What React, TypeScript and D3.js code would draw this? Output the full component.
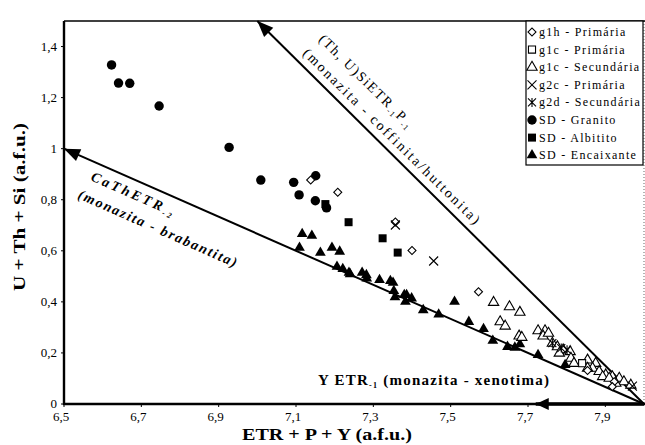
import React from "react";
import * as d3 from "d3";

const W = 645;
const H = 445;

const xTicks = [6.5, 6.7, 6.9, 7.1, 7.3, 7.5, 7.7, 7.9];
const yTicks = [0, 0.2, 0.4, 0.6, 0.8, 1, 1.2, 1.4];

// SD - Granito (filled circles)
const granito: [number, number][] = [
  [6.623, 1.328], [6.641, 1.257], [6.67, 1.256], [6.746, 1.167], [6.927, 1.005],
  [7.009, 0.877], [7.094, 0.868], [7.151, 0.894], [7.108, 0.819], [7.15, 0.796], [7.179, 0.768],
];
// SD - Albitito (filled squares)
const albitito: [number, number][] = [
  [7.176, 0.783], [7.236, 0.712], [7.324, 0.649], [7.363, 0.593],
];
// SD - Encaixante (filled triangles)
const encaixante: [number, number][] = [
  [7.116, 0.666], [7.141, 0.659], [7.109, 0.612], [7.163, 0.593], [7.193, 0.612], [7.213, 0.597],
  [7.206, 0.538], [7.221, 0.529], [7.237, 0.514], [7.24, 0.509], [7.271, 0.514], [7.282, 0.505],
  [7.283, 0.492], [7.316, 0.486], [7.344, 0.482], [7.351, 0.475], [7.353, 0.443], [7.356, 0.418],
  [7.38, 0.427], [7.386, 0.427], [7.383, 0.401], [7.399, 0.414], [7.429, 0.368], [7.469, 0.351],
  [7.51, 0.401], [7.547, 0.322], [7.585, 0.294], [7.609, 0.248], [7.647, 0.224], [7.666, 0.221],
  [7.679, 0.234], [7.726, 0.192], [7.796, 0.153],
];
// g1h - Primária (open diamonds)
const g1hPrim: [number, number][] = [
  [7.138, 0.877], [7.208, 0.829], [7.357, 0.713], [7.4, 0.601], [7.572, 0.44],
  [7.854, 0.131], [7.923, 0.087], [7.918, 0.068],
];
// g1c - Primária (open squares)
const g1cPrim: [number, number][] = [[7.84, 0.16]];
// g1c - Secundária (open triangles)
const g1cSec: [number, number][] = [
  [7.611, 0.398], [7.652, 0.381], [7.679, 0.359], [7.628, 0.322], [7.641, 0.305], [7.677, 0.266],
  [7.684, 0.261], [7.726, 0.287], [7.744, 0.287], [7.739, 0.266], [7.753, 0.277], [7.763, 0.238],
  [7.776, 0.224], [7.791, 0.212], [7.809, 0.205], [7.781, 0.199], [7.811, 0.179], [7.819, 0.159],
  [7.854, 0.172], [7.875, 0.159], [7.867, 0.14], [7.884, 0.127], [7.901, 0.114], [7.918, 0.107],
  [7.936, 0.101], [7.948, 0.087], [7.927, 0.081], [7.966, 0.074], [7.854, 0.14], [7.893, 0.107],
  [7.91, 0.101],
];
// g2c - Primária (x)
const g2cPrim: [number, number][] = [[7.357, 0.701], [7.456, 0.56], [7.97, 0.07]];
// g2d - Secundária (asterisk)
const g2dSec: [number, number][] = [[7.763, 0.238], [7.786, 0.219], [7.801, 0.212]];

const legendItems = [
  { key: "diamond", label: "g1h - Primária" },
  { key: "osquare", label: "g1c - Primária" },
  { key: "otri", label: "g1c - Secundária" },
  { key: "x", label: "g2c - Primária" },
  { key: "ast", label: "g2d - Secundária" },
  { key: "circle", label: "SD - Granito" },
  { key: "square", label: "SD - Albitito" },
  { key: "tri", label: "SD - Encaixante" },
];

const TS: React.CSSProperties = { fontFamily: '"Liberation Serif"' };

function Marker({ kind, cx, cy }: { kind: string; cx: number; cy: number }) {
  const t = `translate(${cx},${cy})`;
  if (kind === "circle") {
    return <path transform={t} d={d3.symbol().type(d3.symbolCircle).size(70)()!} fill="#000" />;
  }
  if (kind === "square") {
    return <path transform={t} d={d3.symbol().type(d3.symbolSquare).size(64)()!} fill="#000" />;
  }
  if (kind === "osquare") {
    return <path transform={t} d={d3.symbol().type(d3.symbolSquare).size(50)()!} fill="#fff" stroke="#000" strokeWidth={1.1} />;
  }
  if (kind === "tri") {
    return <path transform={t} d={d3.symbol().type(d3.symbolTriangle).size(50)()!} fill="#000" />;
  }
  if (kind === "otri") {
    return <path transform={t} d={d3.symbol().type(d3.symbolTriangle).size(46)()!} fill="#fff" stroke="#000" strokeWidth={1.1} />;
  }
  if (kind === "diamond") {
    return <path transform={`${t} rotate(45)`} d={d3.symbol().type(d3.symbolSquare).size(32)()!} fill="#fff" stroke="#000" strokeWidth={1.1} />;
  }
  if (kind === "x") {
    const s = 4.5;
    return <path transform={t} d={`M${-s},${-s}L${s},${s}M${-s},${s}L${s},${-s}`} stroke="#000" strokeWidth={1.1} fill="none" />;
  }
  const s = 4;
  return <path transform={t} d={`M${-s},${-s}L${s},${s}M${-s},${s}L${s},${-s}M0,${-s - 0.5}L0,${s + 0.5}`} stroke="#000" strokeWidth={1.1} fill="none" />;
}

function arrowHead(tip: [number, number], from: [number, number], len = 16, half = 6.5) {
  const dx = from[0] - tip[0];
  const dy = from[1] - tip[1];
  const L = Math.hypot(dx, dy);
  const ux = dx / L, uy = dy / L;
  const bx = tip[0] + ux * len, by = tip[1] + uy * len;
  const px = -uy, py = ux;
  return `M${tip[0]},${tip[1]}L${bx + px * half},${by + py * half}L${bx - px * half},${by - py * half}Z`;
}

export default function App() {
  const x = d3.scaleLinear().domain([6.5, 8.0]).range([64, 644]);
  const y = d3.scaleLinear().domain([0, 1.5]).range([404, 21]);

  const origin: [number, number] = [x(8.0), y(0)];
  const tipCa: [number, number] = [x(6.5), y(1.0)];
  const tipTh: [number, number] = [x(7.0), y(1.5)];
  const tipY: [number, number] = [x(7.72), y(0)];

  const angCa = (Math.atan2(origin[1] - tipCa[1], origin[0] - tipCa[0]) * 180) / Math.PI;
  const angTh = (Math.atan2(origin[1] - tipTh[1], origin[0] - tipTh[0]) * 180) / Math.PI;

  const fmt = (v: number) => (v === 0 || v === 1 ? String(v) : v.toFixed(1).replace(".", ","));

  const series: { kind: string; data: [number, number][] }[] = [
    { kind: "circle", data: granito },
    { kind: "square", data: albitito },
    { kind: "tri", data: encaixante },
    { kind: "otri", data: g1cSec },
    { kind: "diamond", data: g1hPrim },
    { kind: "osquare", data: g1cPrim },
    { kind: "x", data: g2cPrim },
    { kind: "ast", data: g2dSec },
  ];

  const legX = 526, legY = 21, legW = 117, legH = 144, rowH = 17.6;

  return (
    <svg width={W} height={H} style={{ position: "absolute", left: 0, top: 0, background: "#fff", fontFamily: '"Liberation Serif"' }}>
      <rect x={0} y={0} width={W} height={H} fill="#fff" />
      <line x1={x(6.5)} y1={y(1.5)} x2={W} y2={y(1.5)} stroke="#000" strokeWidth={1.6} />
      <line x1={x(8.0)} y1={y(1.5)} x2={x(8.0)} y2={y(0)} stroke="#000" strokeWidth={0.6} strokeDasharray="1,2" />
      <line x1={x(6.5)} y1={y(1.5)} x2={x(6.5)} y2={y(0) + 1} stroke="#000" strokeWidth={2.4} />
      <line x1={x(6.5) - 1} y1={y(0)} x2={W} y2={y(0)} stroke="#000" strokeWidth={2.4} />

      {yTicks.map((v) => (
        <g key={"y" + v}>
          <line x1={x(6.5) - 3} x2={x(6.5)} y1={y(v)} y2={y(v)} stroke="#000" strokeWidth={1} />
          <text style={TS} x={57} y={y(v) + 4} fontSize={13} textAnchor="end" fill="#000">{fmt(v)}</text>
        </g>
      ))}
      {xTicks.map((v) => (
        <g key={"x" + v}>
          <line x1={x(v)} x2={x(v)} y1={y(0)} y2={y(0) + 3} stroke="#000" strokeWidth={1} />
          <text style={TS} x={x(v) - 3} y={421} fontSize={13} textAnchor="middle" fill="#000">{fmt(v)}</text>
        </g>
      ))}

      <text style={TS} x={327} y={440} fontSize={17} fontWeight="bold" textAnchor="middle" textLength={170} lengthAdjust="spacingAndGlyphs" fill="#000">ETR + P + Y (a.f.u.)</text>
      <text style={TS} transform={`translate(25,207) rotate(-90)`} fontSize={17} fontWeight="bold" textAnchor="middle" textLength={168} lengthAdjust="spacingAndGlyphs" fill="#000">U + Th + Si (a.f.u.)</text>

      <line x1={origin[0]} y1={origin[1]} x2={tipCa[0]} y2={tipCa[1]} stroke="#000" strokeWidth={2} />
      <path d={arrowHead(tipCa, origin)} fill="#000" />
      <line x1={origin[0]} y1={origin[1]} x2={tipTh[0]} y2={tipTh[1]} stroke="#000" strokeWidth={2} />
      <path d={arrowHead(tipTh, origin)} fill="#000" />
      <line x1={origin[0]} y1={origin[1]} x2={tipY[0]} y2={tipY[1]} stroke="#000" strokeWidth={3.5} />
      <path d={arrowHead(tipY, origin, 13, 6)} fill="#000" />

      <g transform={`translate(90,180) rotate(${angCa})`}>
        <text style={TS} fontSize={14} fontStyle="italic" fontWeight="bold" letterSpacing={2.8} fill="#000">
          CaThETR<tspan fontSize={8} dy={3}>-2</tspan>
        </text>
      </g>
      <g transform={`translate(77,198) rotate(${angCa})`}>
        <text style={TS} fontSize={14} fontStyle="italic" fontWeight="bold" textLength={172} lengthAdjust="spacing" fill="#000">(monazita - brabantita)</text>
      </g>
      <g transform={`translate(318,40) rotate(${angTh})`}>
        <text style={TS} fontSize={14} textLength={126} lengthAdjust="spacing" fill="#000">
          (Th, U)SiETR<tspan fontSize={8} dy={3}>-1</tspan><tspan dy={-3}>P</tspan><tspan fontSize={8} dy={3}>-1</tspan>
        </text>
      </g>
      <g transform={`translate(302,54) rotate(${angTh})`}>
        <text style={TS} fontSize={14} textLength={243} lengthAdjust="spacing" fill="#000">(monazita - coffinita/huttonita)</text>
      </g>
      <text style={TS} x={318} y={385} fontSize={15} fontWeight="bold" textLength={231} lengthAdjust="spacing" fill="#000">
        Y ETR<tspan fontSize={8} dy={3}>-1</tspan><tspan dy={-3}> (monazita - xenotima)</tspan>
      </text>

      {series.map((s) =>
        s.data.map((d, i) => <Marker key={s.kind + i} kind={s.kind} cx={x(d[0])} cy={y(d[1])} />)
      )}

      <rect x={legX} y={legY} width={legW} height={legH} fill="#fff" stroke="#000" strokeWidth={1.2} />
      {legendItems.map((it, i) => {
        const cy = legY + 11 + i * rowH;
        return (
          <g key={it.key}>
            <Marker kind={it.key} cx={legX + 6} cy={cy} />
            <text style={TS} x={legX + 13} y={cy + 4} fontSize={12} letterSpacing={1.3} fill="#000">{it.label}</text>
          </g>
        );
      })}
    </svg>
  );
}
